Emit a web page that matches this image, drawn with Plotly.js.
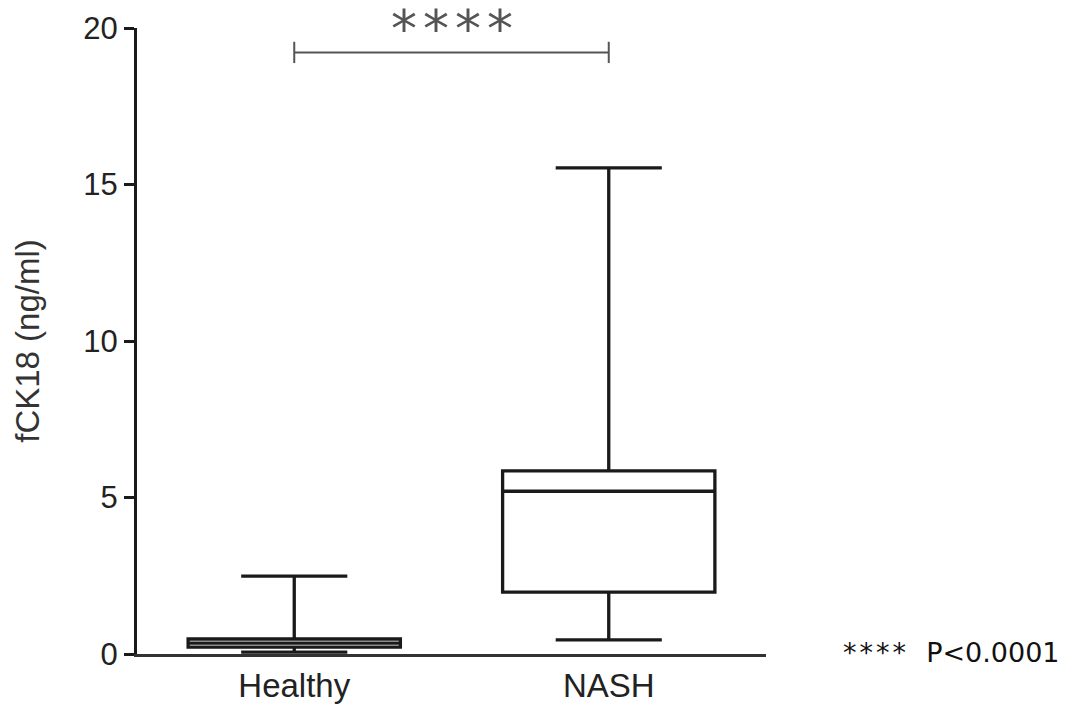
<!DOCTYPE html>
<html>
<head>
<meta charset="utf-8">
<script src="https://cdn.plot.ly/plotly-3.0.1.min.js"></script>
<style>
  html, body { margin: 0; padding: 0; background: #fff; }
  #chart { width: 1068px; height: 707px; }
</style>
</head>
<body>
<div id="chart"></div>
<script>
// Group names on the x axis
const groups = ['Healthy', 'NASH'];

// Box-and-whisker summaries of fCK18 (ng/ml), min to max whiskers
const whiskerLow  = [0.06, 0.45];
const quartile1   = [0.22, 1.98];
const medians     = [0.35, 5.20];
const quartile3   = [0.48, 5.85];
const whiskerHigh = [2.49, 15.53];

// Y axis ticks
const yTicks = [0, 5, 10, 15, 20];

// Significance bracket between the two groups
const bracketLevel = 19.22;
const bracketTick = 0.34;
const bracketLabel = '****';
const footnoteStars = '****';
const footnoteText = 'P&lt;0.0001';

const ink = '#1a1a1a';
const arial = 'Liberation Sans, Arial, Helvetica, sans-serif';

const boxTrace = {
  type: 'box',
  x: groups,
  q1: quartile1,
  median: medians,
  q3: quartile3,
  lowerfence: whiskerLow,
  upperfence: whiskerHigh,
  boxpoints: false,
  width: 0.675,
  whiskerwidth: 0.5,
  fillcolor: 'rgba(0,0,0,0)',
  line: { color: ink, width: 3.3 },
  hoverinfo: 'skip',
  showlegend: false
};

const g0 = groups[0], g1 = groups[1];
const bracketTrace = {
  type: 'scatter',
  mode: 'lines',
  x: [g0, g0, null, g0, g1, null, g1, g1],
  y: [bracketLevel - bracketTick, bracketLevel + bracketTick, null,
      bracketLevel, bracketLevel, null,
      bracketLevel - bracketTick, bracketLevel + bracketTick],
  line: { color: '#555', width: 2 },
  cliponaxis: false,
  hoverinfo: 'skip',
  showlegend: false
};

const layout = {
  width: 1068,
  height: 707,
  margin: { l: 137, r: 302, t: 28, b: 53 },
  paper_bgcolor: '#fff',
  plot_bgcolor: '#fff',
  showlegend: false,
  xaxis: {
    type: 'category',
    range: [-0.5, 1.5],
    showline: true,
    linecolor: '#333',
    linewidth: 2.6,
    ticks: '',
    showgrid: false,
    zeroline: false,
    tickfont: { family: arial, size: 33, color: '#222' },
    ticklabelstandoff: 1
  },
  yaxis: {
    range: [0, 20],
    tickvals: yTicks,
    ticktext: yTicks.map(String),
    showline: true,
    linecolor: ink,
    linewidth: 3,
    ticks: 'outside',
    ticklen: 10,
    tickwidth: 3,
    tickcolor: ink,
    showgrid: false,
    zeroline: false,
    tickfont: { family: arial, size: 31, color: '#222' },
    title: {
      text: 'fCK18 (ng/ml)',
      font: { family: arial, size: 33, color: '#333' },
      standoff: 34
    }
  },
  annotations: [
    {
      xref: 'x', yref: 'paper',
      x: 0.5, y: 1,
      yshift: -1,
      xshift: 3,
      text: '<span style="letter-spacing:6px">' + bracketLabel + '</span>',
      showarrow: false,
      xanchor: 'center', yanchor: 'middle',
      font: { family: 'DejaVu Sans, Verdana, sans-serif', size: 52, color: '#555' }
    },
    {
      xref: 'paper', yref: 'paper',
      x: 1.12, y: 0.003,
      text: '<span style="letter-spacing:3px">' + footnoteStars + '</span>  ' + footnoteText,
      showarrow: false,
      xanchor: 'left', yanchor: 'middle',
      font: { family: 'DejaVu Sans, Verdana, sans-serif', size: 27, color: '#111' }
    }
  ]
};

Plotly.newPlot('chart', [boxTrace, bracketTrace], layout, { displayModeBar: false, staticPlot: true });
</script>
</body>
</html>
